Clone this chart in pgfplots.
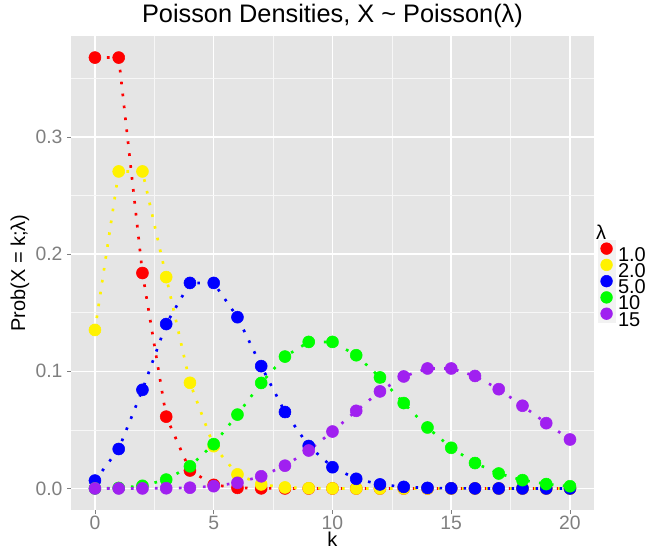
\documentclass[border=0pt]{standalone}
\usepackage{pgfplots}
\pgfplotsset{compat=1.18}
\usepackage{fontspec}
\setmainfont{Liberation Sans}
\definecolor{panelbg}{HTML}{E5E5E5}
\definecolor{ticktxt}{HTML}{7F7F7F}
\definecolor{keybg}{HTML}{F2F2F2}
\definecolor{rpurple}{HTML}{A020F0}

% Poisson probabilities, k = 0..20
\pgfplotstableread{
k   l1          l2          l5          l10        l15
0   0.367879    0.135335    0.006738    0.0000454  0.0000003
1   0.367879    0.270671    0.033690    0.000454   0.0000046
2   0.183940    0.270671    0.084224    0.002270   0.0000344
3   0.061313    0.180447    0.140374    0.007567   0.000172
4   0.015328    0.090224    0.175467    0.018917   0.000645
5   0.003066    0.036089    0.175467    0.037833   0.001936
6   0.000511    0.012030    0.146223    0.063055   0.004839
7   0.000073    0.003437    0.104445    0.090079   0.010370
8   0.000009    0.000859    0.065278    0.112599   0.019444
9   0.000001    0.000191    0.036266    0.125110   0.032407
10  0.0         0.000038    0.018133    0.125110   0.048611
11  0.0         0.000007    0.008242    0.113736   0.066287
12  0.0         0.000001    0.003434    0.094780   0.082859
13  0.0         0.0         0.001321    0.072908   0.095607
14  0.0         0.0         0.000472    0.052077   0.102436
15  0.0         0.0         0.000157    0.034718   0.102436
16  0.0         0.0         0.000049    0.021699   0.096034
17  0.0         0.0         0.000014    0.012764   0.084736
18  0.0         0.0         0.000004    0.007091   0.070613
19  0.0         0.0         0.000001    0.003732   0.055747
20  0.0         0.0         0.0         0.001866   0.041810
}\pois

\begin{document}
\begin{tikzpicture}
\useasboundingbox (-53.4pt,-30.75pt) rectangle (438.6pt,382.5pt);
\begin{axis}[
  at={(0,0)}, anchor=south west,
  scale only axis, width=391.9pt, height=355.5pt,
  xmin=-1, xmax=21, ymin=-0.0184, ymax=0.3863,
  axis background/.style={fill=panelbg},
  axis line style={draw=none},
  xtick={0,5,10,15,20}, ytick={0,0.1,0.2,0.3},
  minor xtick={2.5,7.5,12.5,17.5}, minor ytick={0.05,0.15,0.25,0.35},
  xtick pos=bottom, ytick pos=left,
  grid=both,
  major grid style={white, line width=1.1pt},
  minor grid style={white!97!black, line width=0.5pt},
  tick align=outside, major tick length=3pt, minor tick length=0pt,
  tick style={ticktxt, line width=0.5pt},
  xticklabel style={font=\fontsize{14.5}{14.5}\selectfont, text=ticktxt, yshift=2pt},
  yticklabel style={font=\fontsize{14.5}{14.5}\selectfont, text=ticktxt},
  yticklabel={\pgfmathprintnumber[fixed, fixed zerofill, precision=1]{\tick}},
  /pgf/number format/assume math mode=true,
  xlabel={k}, ylabel={Prob(X = k;λ)},
  label style={font=\fontsize{15}{15}\selectfont},
  xlabel style={at={(axis description cs:0.5,0)}, anchor=base, inner sep=0pt, yshift=-27.3pt},
  ylabel style={at={(axis description cs:-0.098,0.5)}, anchor=center},
  title={Poisson Densities, X \textasciitilde\ Poisson(λ)},
  title style={font=\fontsize{19}{19}\selectfont, yshift=-3pt},
  clip=false,
  legend cell align=left,
  legend style={at={(axis description cs:1.0077,0.570)}, anchor=north west,
    draw=none, fill=none, inner sep=0pt, row sep=-3.6pt, column sep=0pt,
    font=\fontsize{15}{15}\selectfont,
    nodes={inner sep=0pt, text height=10pt, text depth=0pt}},
  key/.style={legend image code/.code={
    \fill[keybg] (0pt,-1.8pt) rectangle (12.4pt,10.6pt);
    \fill[#1] (6.2pt,4.4pt) circle (4.4pt);}},
  pts/.style={only marks, mark=*, mark size=4.5pt, color=#1, forget plot},
  ln/.style={#1, line width=2pt, dash pattern=on 2pt off 7pt, forget plot},
]
\addlegendimage{key=red}\addlegendentry{\hspace{2.2pt}1.0}
\addlegendimage{key=yellow}\addlegendentry{\hspace{2.2pt}2.0}
\addlegendimage{key=blue}\addlegendentry{\hspace{2.2pt}5.0}
\addlegendimage{key=green}\addlegendentry{\hspace{2.2pt}10}
\addlegendimage{key=rpurple}\addlegendentry{\hspace{2.2pt}15}

\addplot[pts=red] table[x=k,y=l1] {\pois};
\addplot[pts=yellow] table[x=k,y=l2] {\pois};
\addplot[pts=blue] table[x=k,y=l5] {\pois};
\addplot[pts=green] table[x=k,y=l10] {\pois};
\addplot[pts=rpurple] table[x=k,y=l15] {\pois};

\addplot[ln=red] table[x=k,y=l1] {\pois};
\addplot[ln=yellow] table[x=k,y=l2] {\pois};
\addplot[ln=blue] table[x=k,y=l5] {\pois};
\addplot[ln=green] table[x=k,y=l10] {\pois};
\addplot[ln=rpurple] table[x=k,y=l15] {\pois};

\node[anchor=south west, font=\fontsize{15}{15}\selectfont, inner sep=0pt]
  at (axis description cs:1.004,0.571) {λ};
\end{axis}
\end{tikzpicture}
\end{document}
